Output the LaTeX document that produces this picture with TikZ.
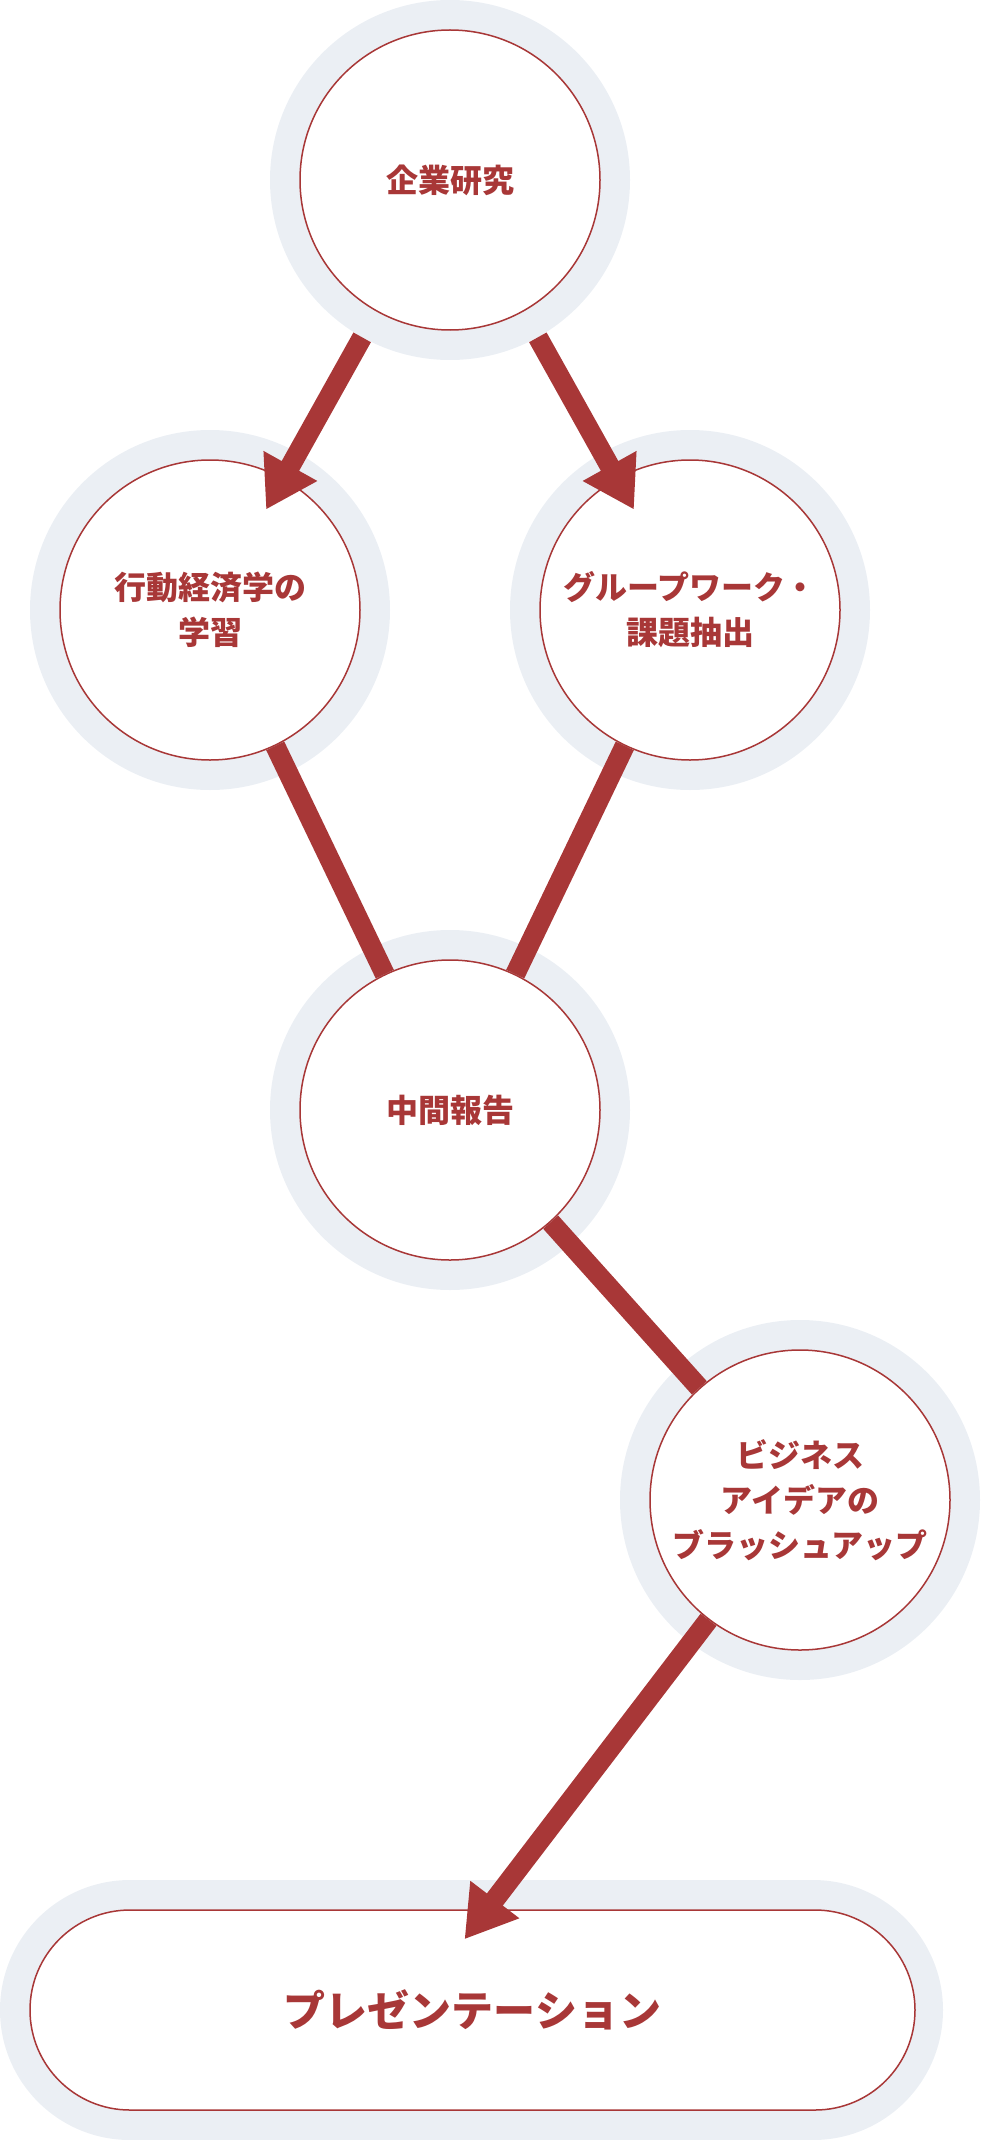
\documentclass[tikz,border=0pt]{standalone}
\usepackage{fontspec}
\setmainfont{Noto Sans CJK JP}
\usetikzlibrary{arrows.meta,calc}
\definecolor{accent}{RGB}{168,55,55}
\definecolor{halo}{RGB}{235,239,244}

\begin{document}
\begin{tikzpicture}[
  x=1pt, y=-1pt,
  ring/.style={circle, fill=halo, minimum size=360pt, inner sep=0pt},
  box/.style={draw=accent, line width=1.5pt, fill=white, inner sep=0pt, align=center,
    text=accent, font=\bfseries\fontsize{32}{45}\selectfont},
  st/.style={box, circle, minimum size=300pt},
  ln/.style={draw=accent, line width=20pt},
  arr/.style={ln, -{Triangle[length=50pt, width=58pt]}}
]
\useasboundingbox (0,0) rectangle (981,2140);
% stages
\node[ring] (co-r) at (450,180) {};
\node[st] (co) at (450,180) {企業研究};
\node[ring] (be-r) at (210,610) {};
\node[st] (be) at (210,610) {行動経済学の\\学習};
\node[ring] (gw-r) at (690,610) {};
\node[st] (gw) at (690,610) {グループワーク・\\課題抽出};
\node[ring] (mid-r) at (450,1110) {};
\node[st] (mid) at (450,1110) {中間報告};
\node[ring] (bi-r) at (800,1500) {};
\node[st] (bi) at (800,1500) {ビジネス\\アイデアの\\ブラッシュアップ};
\node[fill=halo, rounded corners=130pt, minimum width=943pt, minimum height=260pt,
  inner sep=0pt] (pr-r) at (471.5,2010) {};
\node[box, rounded corners=100pt, minimum width=885pt, minimum height=200pt,
  font=\bfseries\fontsize{42}{50}\selectfont] (pr) at (472.5,2010) {プレゼンテーション};
% connectors
\coordinate (be-t) at ($(be)!115pt!(co)$);
\coordinate (gw-t) at ($(gw)!115pt!(co)$);
\coordinate (pr-t) at ($(pr.north)+(-8,30)$);
\draw[arr] (co-r) -- (be-t);
\draw[arr] (co-r) -- (gw-t);
\draw[ln] (be) -- (mid);
\draw[ln] (gw) -- (mid);
\draw[ln] (mid) -- (bi);
\draw[arr] (bi) -- (pr-t);
\end{tikzpicture}
\end{document}
